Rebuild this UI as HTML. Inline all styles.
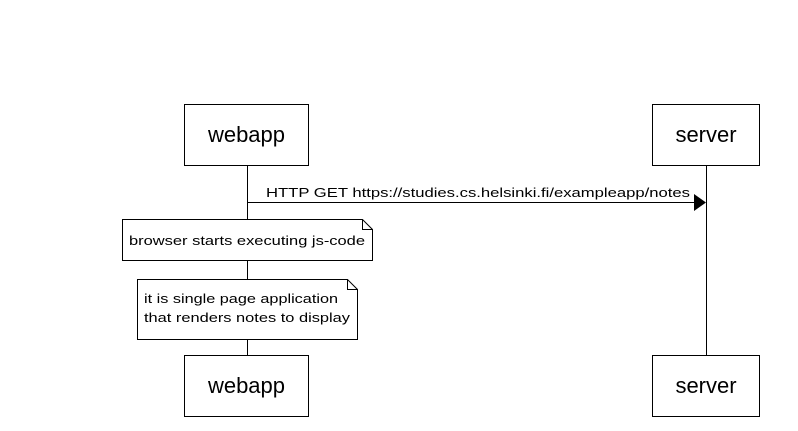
<!DOCTYPE html>
<html><head><style>body{margin:0;background:#fff}svg{display:block}</style></head>
<body>
<svg width="798" height="431" xmlns="http://www.w3.org/2000/svg" font-family="Liberation Sans, Arial, sans-serif">
<rect width="798" height="431" fill="#fff"/>
<g stroke="#000" stroke-width="1" fill="none">
<line x1="247.5" y1="165" x2="247.5" y2="355"/>
<line x1="706.5" y1="165" x2="706.5" y2="355"/>
<rect x="184.5" y="104.5" width="124" height="61" fill="#fff"/>
<rect x="184.5" y="355.5" width="124" height="61" fill="#fff"/>
<rect x="652.5" y="104.5" width="107" height="61" fill="#fff"/>
<rect x="652.5" y="355.5" width="107" height="61" fill="#fff"/>
<line x1="247.5" y1="202.5" x2="696" y2="202.5"/>
<path d="M122.5 219.5 H362.5 L372.5 229.5 V260.5 H122.5 Z M362.5 219.5 V229.5 H372.5" fill="#fff"/>
<path d="M137.5 279.5 H347.5 L357.5 289.5 V339.5 H137.5 Z M347.5 279.5 V289.5 H357.5" fill="#fff"/>
</g>
<path d="M694 194 L706 202.5 L694 211 Z" fill="#000"/>
<g font-size="22" text-anchor="middle" fill="#000">
<text x="246.5" y="142">webapp</text>
<text x="246.5" y="393">webapp</text>
<text x="706" y="142">server</text>
<text x="706" y="393">server</text>
</g>
<g font-size="12.5" fill="#000">
<text x="266" y="197" textLength="424" lengthAdjust="spacingAndGlyphs">HTTP GET https://studies.cs.helsinki.fi/exampleapp/notes</text>
<text x="129" y="245" textLength="236" lengthAdjust="spacingAndGlyphs">browser starts executing js-code</text>
<text x="144" y="303" textLength="194" lengthAdjust="spacingAndGlyphs">it is single page application</text>
<text x="144" y="322" textLength="206" lengthAdjust="spacingAndGlyphs">that renders notes to display</text>
</g>
</svg>
</body></html>
